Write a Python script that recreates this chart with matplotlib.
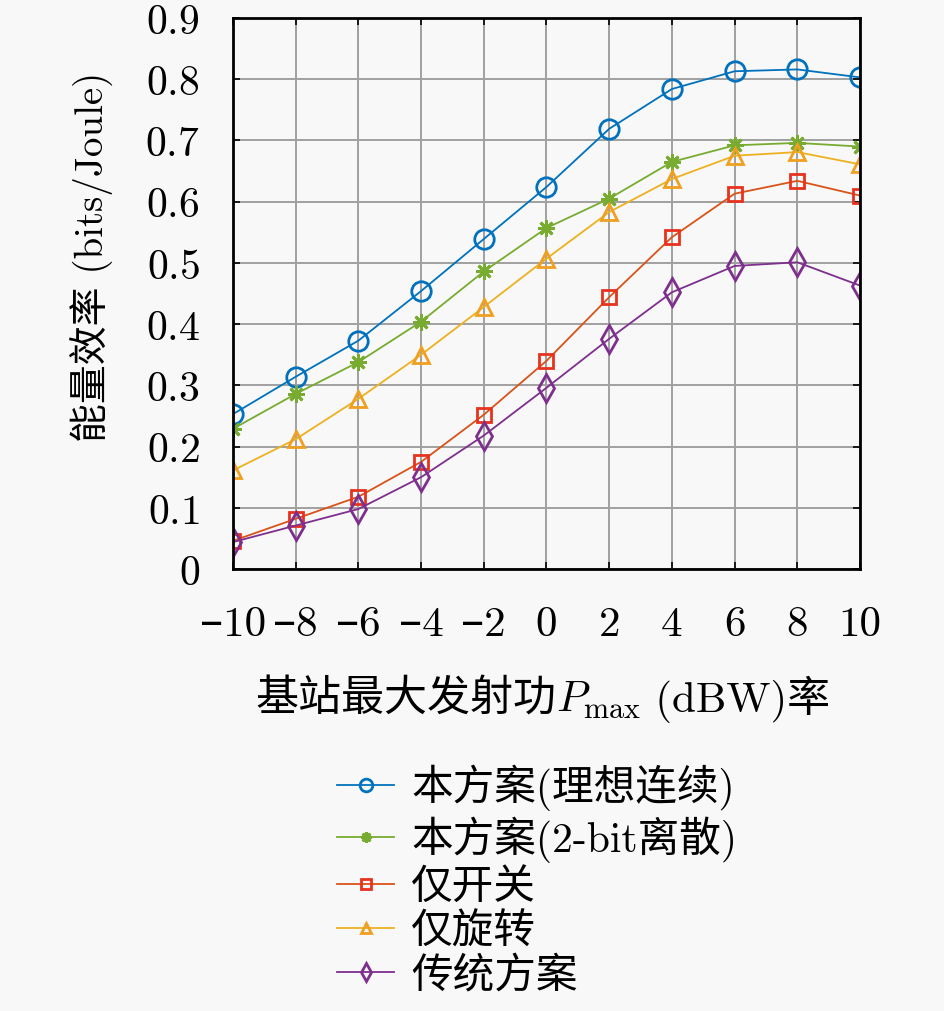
import numpy as np
import matplotlib
matplotlib.use('Agg')
import matplotlib.pyplot as plt

# data
p_max = [-10, -8, -6, -4, -2, 0, 2, 4, 6, 8, 10]
ee_ideal = [0.253, 0.314, 0.373, 0.454, 0.539, 0.624, 0.719, 0.784, 0.813, 0.816, 0.803]
ee_2bit = [0.229, 0.286, 0.338, 0.404, 0.486, 0.557, 0.605, 0.665, 0.692, 0.696, 0.690]
ee_switch = [0.046, 0.082, 0.118, 0.175, 0.252, 0.340, 0.444, 0.542, 0.613, 0.634, 0.610]
ee_rotate = [0.161, 0.212, 0.278, 0.350, 0.428, 0.507, 0.583, 0.637, 0.675, 0.681, 0.661]
ee_trad = [0.044, 0.071, 0.098, 0.150, 0.218, 0.296, 0.376, 0.452, 0.495, 0.501, 0.463]

labels = ['本方案(理想连续)', '本方案(2-bit离散)', '仅开关', '仅旋转', '传统方案']
xticks = [-10, -8, -6, -4, -2, 0, 2, 4, 6, 8, 10]
yticks = [0, 0.1, 0.2, 0.3, 0.4, 0.5, 0.6, 0.7, 0.8, 0.9]

plt.rcParams['mathtext.fontset'] = 'cm'
cjk = ['cmr10', 'Noto Sans CJK SC', 'DejaVu Sans']
plt.rcParams['font.family'] = cjk

bg = '#f8f8f8'
W, H = 945, 1012
fig = plt.figure(figsize=(W / 100, H / 100), dpi=100, facecolor=bg)
ax = fig.add_axes([233 / W, 1 - 570 / H, 627 / W, 551 / H])
ax.set_facecolor(bg)

styles = [
    dict(color='#0072BD', marker='o', mfc='none', mec='#0072BD'),
    dict(color='#77AC30', marker=(8, 2, 0), mfc='#77AC30', mec='#77AC30'),
    dict(color='#D95319', marker='s', mfc='none', mec='#E8321E'),
    dict(color='#EDB120', marker='^', mfc='none', mec='#F0A020'),
    dict(color='#7E2F8E', marker='d', mfc='none', mec='#7E2F8E'),
]
series = [ee_ideal, ee_2bit, ee_switch, ee_rotate, ee_trad]
sizes = [14, 12, 10, 12, 14]
for ys, st, lab, ms in zip(series, styles, labels, sizes):
    ax.plot(p_max, ys, lw=1.3, ms=ms, mew=2.0, label=lab, **st)

ax.set_xlim(-10, 10)
ax.set_ylim(0, 0.9)
ax.set_xticks(xticks)
# shorter dash for the minus, as in the reference
ax.set_xticklabels([(f'–{-v}' if v < 0 else f'{v}') for v in xticks])
ax.set_yticks(yticks)
ax.set_yticklabels(['$0$'] + [f'${v:.1f}$' for v in yticks[1:]])
ax.grid(True, color='#a0a0a0', lw=1.4)
ax.tick_params(direction='in', top=True, right=True, length=5, width=1.2)
ax.tick_params(axis='y', labelsize=30, pad=24)
ax.tick_params(axis='x', labelsize=31, pad=26)
for sp in ax.spines.values():
    sp.set_linewidth(2)
    sp.set_color('black')

ax.set_ylabel('能量效率 (bits/Joule)', fontsize=28)
ax.yaxis.set_label_coords(-0.19, 0.568)

# x label assembled from pieces so CJK and math both render
renderer = fig.canvas.get_renderer()
yb = 1 - 712 / H
t1 = fig.text(255 / W, yb, '基站最大发射功', fontsize=31, va='baseline', family=cjk)
bb = t1.get_window_extent(renderer)
t2 = fig.text(bb.x1 / W, yb, r'$P_{\rm max}$', fontsize=31, va='baseline')
bb = t2.get_window_extent(renderer)
fig.text(bb.x1 / W, yb, ' (dBW)率', fontsize=31, va='baseline', family=cjk)

leg = fig.legend(loc='upper left', bbox_to_anchor=(0.335, 0.265), frameon=False,
                 fontsize=30, markerscale=0.65, handlelength=1.35,
                 handletextpad=0.42, labelspacing=0.14, borderpad=0)

fig.savefig('out.png', dpi=100, facecolor=bg)
